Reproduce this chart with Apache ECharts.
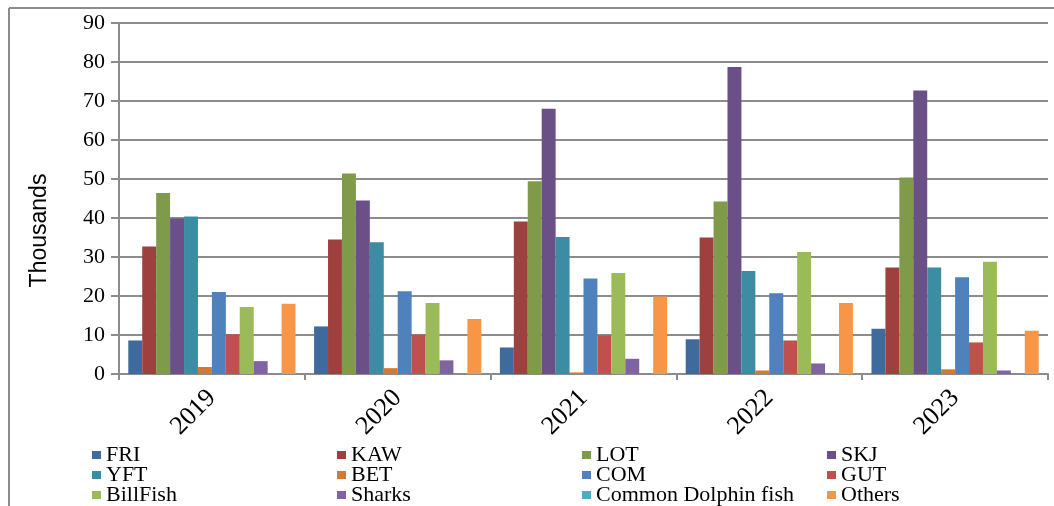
<!DOCTYPE html>
<html>
<head>
<meta charset="utf-8">
<script src="https://cdn.jsdelivr.net/npm/echarts@6/dist/echarts.min.js"></script>
<style>
  html, body { margin: 0; padding: 0; background: #fff; }
  #chart { width: 1054px; height: 506px; }
</style>
</head>
<body>
<div id="chart"></div>
<script>
  // catch by species, thousands
  const years = ['2019', '2020', '2021', '2022', '2023']
  const seriesNames = ['FRI', 'KAW', 'LOT', 'SKJ', 'YFT', 'BET', 'COM', 'GUT', 'BillFish', 'Sharks', 'Common Dolphin fish', 'Others']

  const fri = [8.6, 12.2, 6.8, 8.9, 11.6]
  const kaw = [32.7, 34.5, 39.1, 35.0, 27.3]
  const lot = [46.4, 51.4, 49.4, 44.2, 50.4]
  const skj = [39.9, 44.5, 68.0, 78.7, 72.7]
  const yft = [40.4, 33.8, 35.1, 26.4, 27.3]
  const bet = [1.8, 1.5, 0.4, 0.9, 1.2]
  const com = [21.0, 21.2, 24.5, 20.7, 24.8]
  const gut = [10.2, 10.1, 9.9, 8.6, 8.1]
  const billfish = [17.2, 18.2, 25.9, 31.3, 28.8]
  const sharks = [3.3, 3.5, 3.9, 2.7, 0.9]
  const dolphin = [0, 0, 0, 0, 0]
  const others = [18.0, 14.1, 19.9, 18.2, 11.1]

  const yTicks = [0, 10, 20, 30, 40, 50, 60, 70, 80, 90]

  const allData = [fri, kaw, lot, skj, yft, bet, com, gut, billfish, sharks, dolphin, others]
  const colors = ['#3F6A9C', '#9E413E', '#7F9A48', '#6A5086', '#3C8DA3', '#D27A34',
                  '#4F81BD', '#C0504D', '#9BBB59', '#8064A2', '#4BACC6', '#F79646']

  const chart = echarts.init(document.getElementById('chart'))

  const option = {
    animation: false,
    color: colors,
    grid: {
      left: 119,
      right: 6,
      top: 23,
      bottom: 132
    },
    graphic: [
      { type: 'line', shape: { x1: 9, y1: 8, x2: 1054, y2: 8 }, style: { stroke: '#8c8c8c', lineWidth: 2 } },
      { type: 'line', shape: { x1: 9, y1: 8, x2: 9, y2: 506 }, style: { stroke: '#8c8c8c', lineWidth: 2 } }
    ],
    legend: {
      data: seriesNames,
      left: 92,
      top: 444,
      width: 990,
      padding: 0,
      itemGap: -2,
      itemWidth: 9,
      itemHeight: 8,
      icon: 'rect',
      textStyle: {
        fontFamily: 'Liberation Serif',
        fontSize: 22,
        color: '#000',
        width: 233,
        lineHeight: 20
      }
    },
    xAxis: [{
      type: 'category',
      data: years,
      axisLine: { lineStyle: { color: '#8c8c8c', width: 2 } },
      axisTick: { show: true, length: 6, lineStyle: { color: '#8c8c8c', width: 2 } },
      axisLabel: {
        rotate: 45,
        margin: 20,
        fontFamily: 'Liberation Serif',
        fontSize: 26,
        color: '#000'
      }
    }],
    yAxis: [{
      type: 'value',
      min: yTicks[0],
      max: yTicks[yTicks.length - 1],
      interval: 10,
      name: 'Thousands',
      nameLocation: 'middle',
      nameRotate: 90,
      nameGap: 68,
      nameTextStyle: {
        fontFamily: 'Liberation Sans',
        fontSize: 23,
        color: '#000',
        padding: [0, 64, 0, 0]
      },
      axisLine: { show: true, lineStyle: { color: '#8c8c8c', width: 2 } },
      axisTick: { show: true, length: 8, lineStyle: { color: '#8c8c8c', width: 2 } },
      splitLine: { lineStyle: { color: '#8c8c8c', width: 2 } },
      axisLabel: {
        margin: 14,
        fontFamily: 'Liberation Serif',
        fontSize: 22,
        color: '#000'
      }
    }],
    series: seriesNames.map(function (name, i) {
      return {
        name: name,
        type: 'bar',
        data: allData[i],
        barGap: 0,
        barCategoryGap: '10%'
      }
    })
  }

  chart.setOption(option)
</script>
</body>
</html>
